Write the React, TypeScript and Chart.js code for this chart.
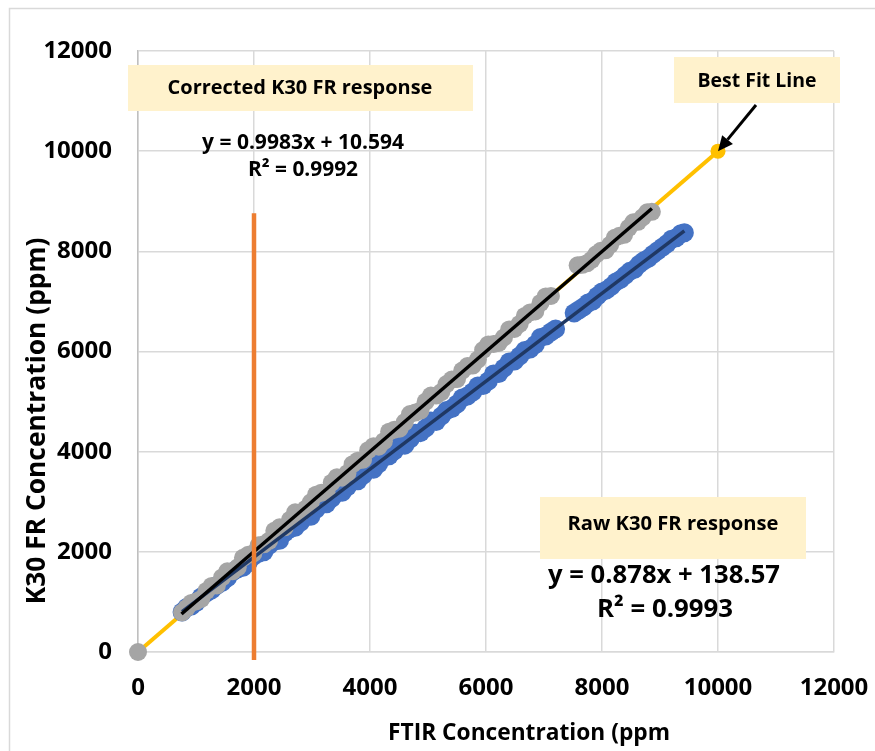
import { useEffect, useRef } from "react";
import { Chart, registerables } from "chart.js";

Chart.register(...registerables);

// ---------- data ----------
const axisTicks = [0, 2000, 4000, 6000, 8000, 10000, 12000];

const correctedX = [0, 760, 840, 920, 1000, 1090, 1180, 1270, 1360, 1450, 1540, 1630, 1720, 1810, 1900, 1990, 2080, 2170, 2260, 2350, 2440, 2530, 2620, 2710, 2800, 2890, 2980, 3070, 3160, 3250, 3340, 3430, 3520, 3610, 3700, 3790, 3880, 3970, 4060, 4150, 4240, 4330, 4420, 4510, 4600, 4690, 4780, 4870, 4960, 5050, 5140, 5230, 5320, 5410, 5500, 5590, 5680, 5770, 5860, 5950, 6040, 6130, 6220, 6310, 6400, 6490, 6580, 6670, 6760, 6850, 6940, 7030, 7120, 7580, 7660, 7740, 7820, 7900, 7980, 8060, 8140, 8220, 8300, 8380, 8460, 8540, 8620, 8700, 8780, 8860];
const correctedY = [0, 790, 880, 980, 1010, 1060, 1220, 1320, 1330, 1490, 1610, 1610, 1690, 1880, 1940, 1970, 2130, 2150, 2220, 2420, 2490, 2490, 2640, 2790, 2780, 2860, 2990, 3140, 3180, 3190, 3380, 3490, 3480, 3570, 3750, 3820, 3840, 4030, 4110, 4100, 4210, 4400, 4440, 4460, 4590, 4750, 4780, 4820, 5000, 5120, 5120, 5190, 5350, 5440, 5450, 5620, 5710, 5720, 5840, 6030, 6140, 6150, 6170, 6280, 6440, 6450, 6550, 6710, 6780, 6800, 6970, 7100, 7110, 7720, 7730, 7760, 7830, 7940, 8010, 8020, 8130, 8270, 8310, 8330, 8470, 8580, 8590, 8680, 8780, 8790];

const rawX = [760, 840, 920, 1000, 1090, 1180, 1270, 1360, 1450, 1540, 1630, 1720, 1810, 1900, 1990, 2080, 2170, 2260, 2350, 2440, 2530, 2620, 2710, 2800, 2890, 2980, 3070, 3160, 3250, 3340, 3430, 3520, 3610, 3700, 3790, 3880, 3970, 4060, 4150, 4240, 4330, 4420, 4510, 4600, 4690, 4780, 4870, 4960, 5050, 5140, 5230, 5320, 5410, 5500, 5590, 5680, 5770, 5860, 5950, 6040, 6130, 6220, 6310, 6400, 6490, 6580, 6670, 6760, 6850, 6940, 7030, 7120, 7200, 7520, 7600, 7680, 7760, 7840, 7920, 8000, 8080, 8160, 8240, 8320, 8400, 8480, 8560, 8640, 8720, 8800, 8880, 8960, 9040, 9120, 9200, 9280, 9360, 9420];
const rawY = [800, 890, 920, 990, 1100, 1180, 1240, 1330, 1390, 1480, 1600, 1660, 1690, 1780, 1910, 1970, 2000, 2130, 2210, 2230, 2380, 2460, 2490, 2590, 2700, 2710, 2850, 2950, 2960, 3070, 3180, 3190, 3300, 3410, 3420, 3530, 3650, 3650, 3760, 3890, 3920, 4020, 4120, 4130, 4250, 4370, 4380, 4470, 4610, 4600, 4710, 4820, 4860, 4950, 5070, 5110, 5190, 5310, 5320, 5410, 5550, 5560, 5670, 5790, 5810, 5910, 6020, 6050, 6140, 6280, 6310, 6390, 6450, 6770, 6830, 6890, 6970, 7010, 7110, 7190, 7230, 7300, 7390, 7440, 7520, 7600, 7640, 7740, 7810, 7860, 7940, 8010, 8080, 8150, 8240, 8270, 8350, 8370];

// trendlines (from the equations shown on the chart)
const correctedSlope = 0.9983;
const correctedIntercept = 10.594;
const correctedFitRange = [750, 8860];
const rawSlope = 0.878;
const rawIntercept = 138.57;
const rawFitRange = [760, 9420];

// best fit (1:1) line and marker line at 2000 ppm
const bestFitX = [0, 10000];
const bestFitY = [0, 10000];
const markerLineX = [2000, 2000];
const markerLineY = [-160, 8760];

// texts
const xAxisTitle = "FTIR Concentration (ppm";
const yAxisTitle = "K30 FR Concentration (ppm)";
const correctedLabel = "Corrected K30 FR response";
const correctedEq = "y = 0.9983x + 10.594";
const correctedR2 = "R² = 0.9992";
const bestFitLabel = "Best Fit Line";
const rawLabel = "Raw K30 FR response";
const rawEq = "y = 0.878x + 138.57";
const rawR2 = "R² = 0.9993";

// ---------- styling / layout ----------
const FONT = "'Open Sans', Lato, 'DejaVu Sans', sans-serif";
const W = 875;
const H = 751;

type TextItem = { text: string; cx: number; cy: number; w: number; rot?: number };
type BoxItem = { x0: number; y0: number; x1: number; y1: number };

const boxes: BoxItem[] = [
  { x0: 128, y0: 65, x1: 473, y1: 111 },
  { x0: 674, y0: 57, x1: 840, y1: 103 },
  { x0: 540, y0: 497, x1: 806, y1: 559 },
];

const texts: TextItem[] = [
  { text: correctedLabel, cx: 300, cy: 88, w: 265 },
  { text: correctedEq, cx: 303, cy: 143, w: 202 },
  { text: correctedR2, cx: 303, cy: 170, w: 110 },
  { text: bestFitLabel, cx: 757, cy: 81, w: 119 },
  { text: rawLabel, cx: 673, cy: 524, w: 211 },
  { text: rawEq, cx: 664, cy: 576, w: 232 },
  { text: rawR2, cx: 665, cy: 610, w: 136 },
  { text: xAxisTitle, cx: 529, cy: 734, w: 282 },
  { text: yAxisTitle, cx: 37, cy: 421, w: 367, rot: -Math.PI / 2 },
];

const arrow = { x0: 756, y0: 105 };

function drawFitted(ctx: CanvasRenderingContext2D, t: TextItem) {
  ctx.save();
  ctx.font = `bold 20px ${FONT}`;
  const m = ctx.measureText(t.text).width;
  const size = (20 * t.w) / m;
  ctx.font = `bold ${size.toFixed(2)}px ${FONT}`;
  ctx.fillStyle = "#000";
  ctx.textAlign = "center";
  ctx.textBaseline = "middle";
  ctx.translate(t.cx, t.cy);
  if (t.rot) ctx.rotate(t.rot);
  ctx.fillText(t.text, 0, 0);
  ctx.restore();
}

const decorPlugin = {
  id: "decor",
  beforeDraw(chart: any) {
    const ctx = chart.ctx as CanvasRenderingContext2D;
    ctx.save();
    ctx.fillStyle = "#fff";
    ctx.fillRect(0, 0, W, H);
    ctx.strokeStyle = "#D9D9D9";
    ctx.lineWidth = 1.5;
    ctx.beginPath();
    ctx.moveTo(9.5, H);
    ctx.lineTo(9.5, 8.5);
    ctx.lineTo(W, 8.5);
    ctx.stroke();
    ctx.restore();
  },
  afterDraw(chart: any) {
    const ctx = chart.ctx as CanvasRenderingContext2D;
    ctx.save();
    ctx.fillStyle = "#FFF2CC";
    for (const b of boxes) ctx.fillRect(b.x0, b.y0, b.x1 - b.x0, b.y1 - b.y0);
    ctx.restore();
    for (const t of texts) drawFitted(ctx, t);
    // arrow to best-fit end point
    const xs = chart.scales.x;
    const ys = chart.scales.y;
    const tx = xs.getPixelForValue(bestFitX[1]);
    const ty = ys.getPixelForValue(bestFitY[1]);
    const ang = Math.atan2(ty - arrow.y0, tx - arrow.x0);
    const head = 15;
    const bx = tx - head * Math.cos(ang);
    const by = ty - head * Math.sin(ang);
    ctx.save();
    ctx.strokeStyle = "#000";
    ctx.fillStyle = "#000";
    ctx.lineWidth = 3;
    ctx.beginPath();
    ctx.moveTo(arrow.x0, arrow.y0);
    ctx.lineTo(bx, by);
    ctx.stroke();
    ctx.beginPath();
    ctx.moveTo(tx, ty);
    ctx.lineTo(bx + 7 * Math.sin(ang), by - 7 * Math.cos(ang));
    ctx.lineTo(bx - 7 * Math.sin(ang), by + 7 * Math.cos(ang));
    ctx.closePath();
    ctx.fill();
    ctx.restore();
  },
};

function pts(xs: number[], ys: number[]) {
  return xs.map((x, i) => ({ x, y: ys[i] }));
}
function fitLine(range: number[], m: number, b: number) {
  return range.map((x) => ({ x, y: m * x + b }));
}

export default function App() {
  const ref = useRef<HTMLCanvasElement | null>(null);
  useEffect(() => {
    if (!ref.current) return;
    const chart = new Chart(ref.current, {
      type: "scatter",
      data: {
        datasets: [
          {
            label: "2000 ppm",
            data: pts(markerLineX, markerLineY),
            showLine: true,
            borderColor: "#ED7D31",
            borderWidth: 4.5,
            pointRadius: 0,
            clip: false as any,
          },
          {
            label: "Corrected trend",
            data: fitLine(correctedFitRange, correctedSlope, correctedIntercept),
            showLine: true,
            borderColor: "#000000",
            borderWidth: 3.5,
            pointRadius: 0,
          },
          {
            label: "Raw trend",
            data: fitLine(rawFitRange, rawSlope, rawIntercept),
            showLine: true,
            borderColor: "#1F3864",
            borderWidth: 3.5,
            pointRadius: 0,
          },
          {
            label: "Corrected K30 FR response",
            data: pts(correctedX, correctedY),
            backgroundColor: "#A5A5A5",
            borderWidth: 0,
            pointRadius: 9,
            clip: false as any,
          },
          {
            label: "Raw K30 FR response",
            data: pts(rawX, rawY),
            backgroundColor: "#4472C4",
            borderWidth: 0,
            pointRadius: 9.5,
          },
          {
            label: "Best Fit Line",
            data: pts(bestFitX, bestFitY),
            showLine: true,
            borderColor: "#FFC000",
            borderWidth: 4,
            backgroundColor: "#FFC000",
            pointRadius: [0, 7.5],
            pointBorderWidth: 0,
            clip: false as any,
          },
        ],
      },
      plugins: [decorPlugin],
      options: {
        responsive: false,
        animation: false,
        devicePixelRatio: 1,
        layout: { padding: { top: 51, right: 41, bottom: 0, left: 0 } },
        plugins: { legend: { display: false }, tooltip: { enabled: false } },
        scales: {
          x: {
            type: "linear",
            min: axisTicks[0],
            max: axisTicks[axisTicks.length - 1],
            afterBuildTicks: (s: any) => {
              s.ticks = axisTicks.map((v) => ({ value: v }));
            },
            afterFit: (s: any) => {
              s.height = 99;
              s.paddingLeft = 0;
              s.paddingRight = 0;
            },
            ticks: {
              color: "#000",
              font: { family: FONT, size: 24, weight: "bold" },
              padding: 22,
              maxRotation: 0,
              callback: (v: any) => String(v),
            },
            grid: { color: "#D9D9D9", lineWidth: 1.5, drawTicks: false },
            border: { color: "#D9D9D9", width: 1.5 },
          },
          y: {
            type: "linear",
            min: axisTicks[0],
            max: axisTicks[axisTicks.length - 1],
            afterBuildTicks: (s: any) => {
              s.ticks = axisTicks.map((v) => ({ value: v }));
            },
            afterFit: (s: any) => {
              s.width = 138;
              s.paddingTop = 0;
              s.paddingBottom = 0;
            },
            ticks: {
              color: "#000",
              font: { family: FONT, size: 24, weight: "bold" },
              padding: 26,
              callback: (v: any) => String(v),
            },
            grid: { color: "#D9D9D9", lineWidth: 1.5, drawTicks: false },
            border: { color: "#BFBFBF", width: 1.5 },
          },
        },
      } as any,
    });
    return () => chart.destroy();
  }, []);
  return (
    <div style={{ position: "fixed", left: 0, top: 0, width: W, height: H, background: "#fff" }}>
      <canvas ref={ref} width={W} height={H} style={{ width: W, height: H, display: "block" }} />
    </div>
  );
}
